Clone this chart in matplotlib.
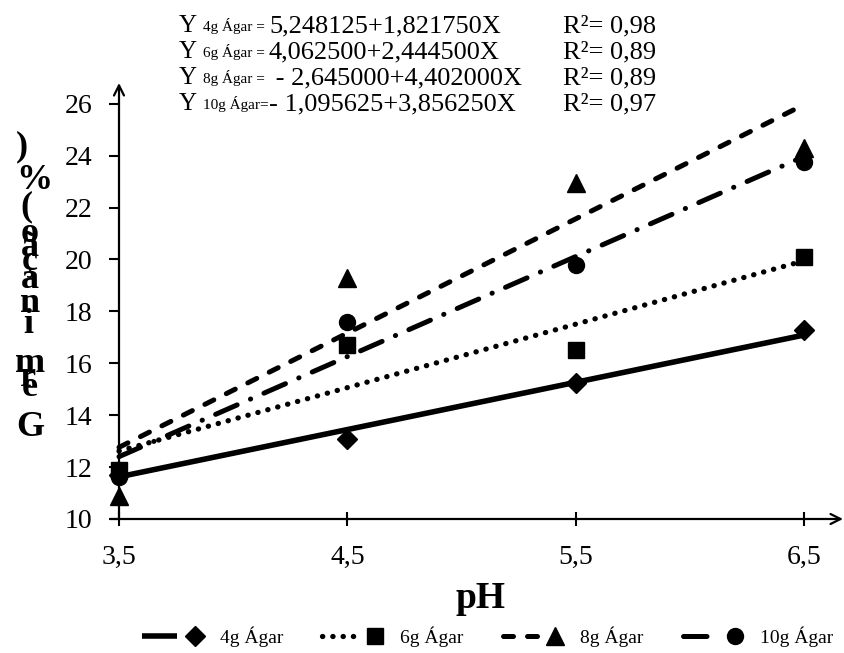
import numpy as np
import matplotlib.pyplot as plt
from matplotlib.legend_handler import HandlerTuple

plt.rcParams['font.family'] = ['Liberation Serif', 'DejaVu Serif']

ph = [3.5, 4.5, 5.5, 6.5]
germ_4g = [11.7, 13.1, 15.25, 17.3]
germ_6g = [11.9, 16.7, 16.5, 20.1]
germ_8g = [10.9, 19.3, 22.95, 24.3]
germ_10g = [11.6, 17.6, 19.8, 23.75]

labels = ['4g Ágar', '6g Ágar', '8g Ágar', '10g Ágar']
intercepts = [5.248125, 4.0625, -2.645, -1.095625]
slopes = [1.82175, 2.4445, 4.402, 3.85625]
eq_texts = ['5,248125+1,821750X', '4,062500+2,444500X',
            ' - 2,645000+4,402000X', '- 1,095625+3,856250X']
r2_texts = ['0,98', '0,89', '0,89', '0,97']

xtick_labels = ['3,5', '4,5', '5,5', '6,5']
yticks = [10, 12, 14, 16, 18, 20, 22, 24, 26]
ylabel = 'Germinação (%)'

W, H = 845, 653
fig = plt.figure(figsize=(W / 100, H / 100), dpi=100)
ax = fig.add_axes([119 / W, 1 - 519 / H, (843 - 119) / W, (519 - 83) / H])

STYLES = [
    dict(ls='-', lw=4.0, marker='D', ms=10.5),
    dict(ls=(0, (0.05, 1.9)), lw=3.8, marker='s', ms=11.5),
    dict(ls=(0, (2.0, 2.8)), lw=3.6, marker='^', ms=12.5),
    dict(ls=(0, (4.7, 2.9, 0.05, 2.9)), lw=3.6, marker='o', ms=11.5),
]

series = [germ_4g, germ_6g, germ_8g, germ_10g]
xs = np.array([ph[0], ph[-1]])
handles = []
for y, a, b, st in zip(series, intercepts, slopes, STYLES):
    line, = ax.plot(xs, a + b * xs, color='black', ls=st['ls'], lw=st['lw'],
                    dash_capstyle='round', solid_capstyle='butt', clip_on=False)
    mk, = ax.plot(ph, y, ls='none', marker=st['marker'], ms=st['ms'],
                  color='black', clip_on=False, zorder=5)
    handles.append((line, mk))

ax.set_xlim(3.5, 6.67)
ax.set_ylim(10, 26.8)
ax.set_xticks(ph)
ax.set_xticklabels(xtick_labels)
ax.set_yticks(yticks)
for s in ['top', 'right', 'left', 'bottom']:
    ax.spines[s].set_visible(False)
ax.annotate('', xy=(1, 0), xytext=(-0.012, 0), xycoords='axes fraction',
            arrowprops=dict(arrowstyle='->', lw=1.6, color='black',
                            shrinkA=0, shrinkB=0, mutation_scale=18))
ax.annotate('', xy=(0, 1), xytext=(0, 0), xycoords='axes fraction',
            arrowprops=dict(arrowstyle='->', lw=1.6, color='black',
                            shrinkA=0, shrinkB=0, mutation_scale=18))
ax.tick_params(axis='y', direction='out', length=7, width=1.5, pad=12, labelsize=20)
ax.tick_params(axis='x', direction='inout', length=10, width=1.5, pad=14, labelsize=20)

ax.set_xlabel('pH', fontsize=27, fontweight='bold', labelpad=8)

# stacked (broken) vertical y label
char_y = [427, 388, 377, 363, 325, 303, 280, 262, 247, 233, None, 207, 180, 147]
char_x = [30, 30, 28, 30, 28, 30, 30, 30, 30, 30, None, 26, 34, 22]
for ch, cx, cy in zip(ylabel, char_x, char_y):
    if cy is None:
        continue
    fig.text(cx / W, 1 - cy / H, ch, fontsize=26, fontweight='bold',
             ha='center', va='center')

# regression equations
row_y = [26, 52, 78, 104]
for i in range(4):
    yy = 1 - row_y[i] / H
    prefix = labels[i] + (' =' if i < 3 else '=')
    fig.text(179 / W, yy, 'Y', fontsize=18, va='center')
    fig.text(203 / W, yy, prefix, fontsize=11, va='center')
    fig.text(269 / W, yy, eq_texts[i], fontsize=19, va='center')
    fig.text(563 / W, yy, 'R²= ' + r2_texts[i], fontsize=19, va='center')

fig.legend(handles, labels, loc='center', bbox_to_anchor=(488 / W, 1 - 637 / H),
           ncol=4, frameon=False, fontsize=14, handlelength=3.6,
           handletextpad=0.4, columnspacing=2.0,
           handler_map={tuple: HandlerTuple(ndivide=None, pad=0)})

fig.savefig('out.png', dpi=100)
